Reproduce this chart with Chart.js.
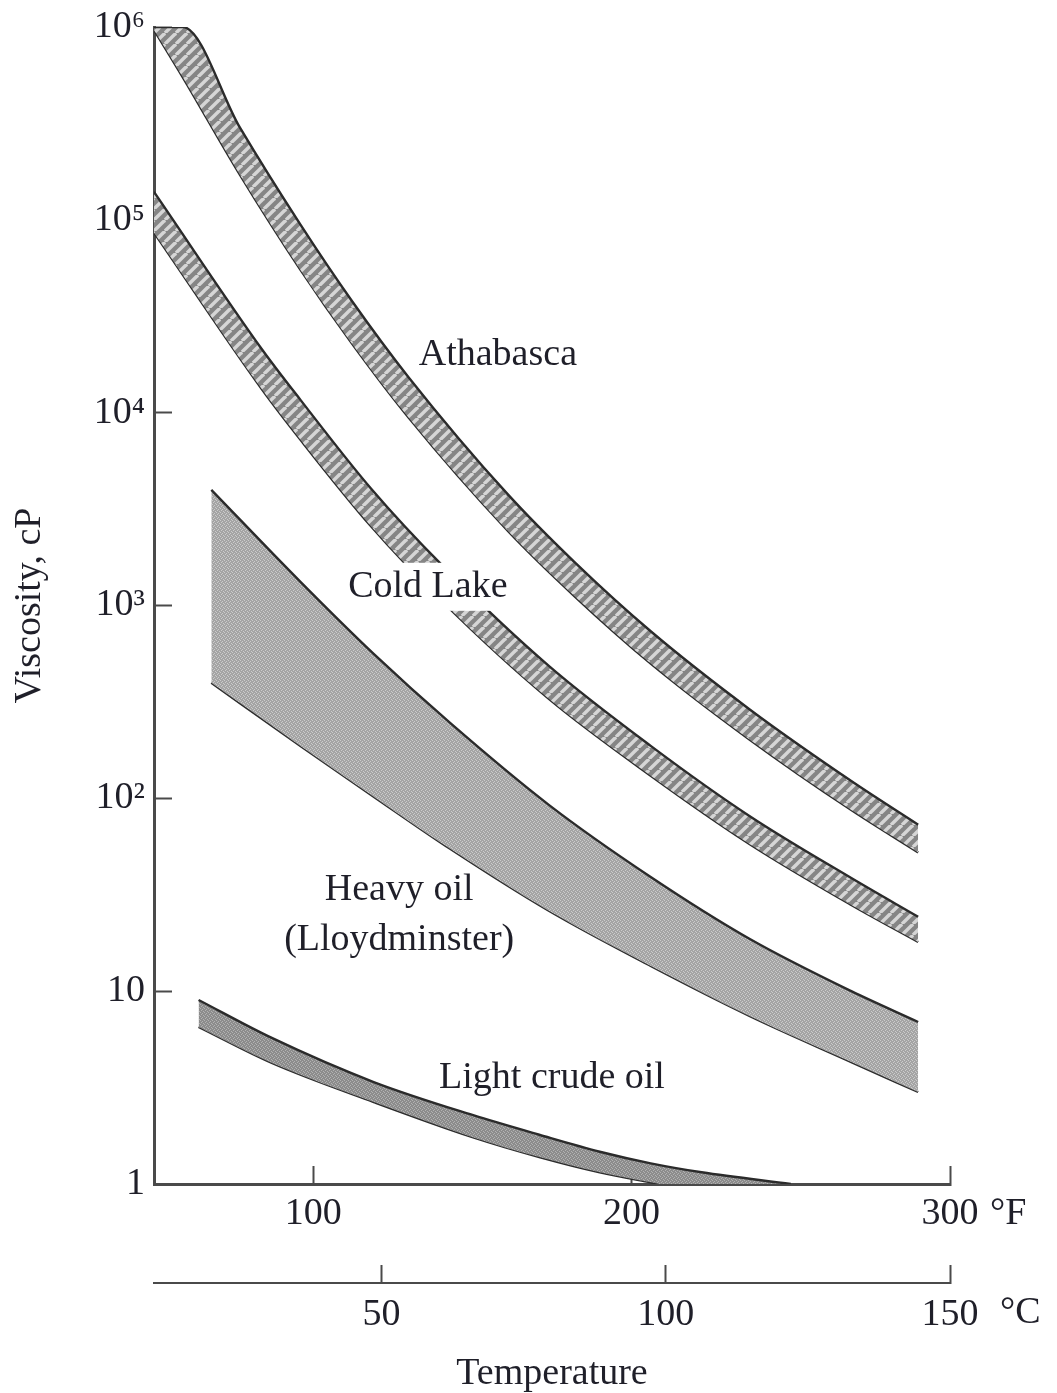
<!DOCTYPE html>
<html>
<head>
<meta charset="utf-8">
<script src="https://cdn.jsdelivr.net/npm/chart.js@4.4.1/dist/chart.umd.min.js"></script>
<style>
html, body { margin: 0; padding: 0; background: #fff; }
#wrap { width: 1057px; height: 1393px; }
</style>
</head>
<body>
<div id="wrap"><canvas id="visc"></canvas></div>
<script>
// temperatures in °F, viscosity in cP
const athabascaTemp = [50, 59, 77, 96, 112, 130, 161, 182, 206, 237, 269, 290]
const athabascaHigh = [1000000, 1000000, 300600, 94400, 38300, 15240, 3790, 1683, 735, 290, 123, 73]
const athabascaLow = [966000, 550000, 171000, 55000, 23000, 9400, 2450, 1120, 500, 202, 86.9, 52.4]

const coldLakeTemp = [50, 84, 96, 118, 141, 174, 206, 237, 269, 290]
const coldLakeHigh = [139700, 21200, 11650, 4070, 1585, 486, 187, 81, 38.6, 24.3]
const coldLakeLow = [85700, 13130, 7230, 2590, 1031, 328, 131, 58, 28, 18]

const heavyTemp = [68, 96, 119, 143, 174, 206, 237, 269, 290]
const heavyHigh = [3980, 1326, 561, 246, 92.5, 39.1, 18.7, 10.0, 6.92]
const heavyLow = [397, 187, 102, 54.7, 26.1, 13.5, 7.44, 4.29, 3.0]

const lightTemp = [64, 87, 119, 150, 171, 190, 206, 222, 250]
const lightHigh = [9.0, 5.72, 3.38, 2.28, 1.80, 1.47, 1.28, 1.15, 1.0]
const lightLow = [6.52, 4.24, 2.66, 1.75, 1.38, 1.15, 1.02, 0.91, 0.79]

const viscTicks = [1, 10, 100, 1000, 10000, 100000, 1000000]
const viscTickLabels = ['1', '10', '10²', '10³', '10⁴', '10⁵', '10⁶']
const tempFTicks = [100, 200, 300]
const tempCTicks = [50, 100, 150]

// where the band names sit (°F, cP)
const bandNames = ['Athabasca', 'Cold Lake', 'Heavy oil', '(Lloydminster)', 'Light crude oil']
const nameTemp = [158, 136, 127, 127, 175]
const nameVisc = [20000, 1250, 33.5, 18.4, 3.55]
const maskedNames = ['Cold Lake']

const FONT = '"Liberation Serif", "DejaVu Serif", serif'
const INK = '#1f1f29'
const AXIS = '#4a4a4a'
const EDGE = '#2b2b2b'

// rope-like stripes for the bitumen bands
function ropePattern() {
    const n = 11
    const c = document.createElement('canvas')
    c.width = n
    c.height = n
    const g = c.getContext('2d')
    g.fillStyle = '#858585'
    g.fillRect(0, 0, n, n)
    g.strokeStyle = '#d6d6d6'
    g.lineWidth = 3.4
    for (const off of [-n, 0, n]) {
        g.beginPath()
        g.moveTo(off, n)
        g.lineTo(off + n, 0)
        g.stroke()
    }
    return g.createPattern(c, 'repeat')
}

// fine speckle for the oils
function specklePattern(base, light) {
    const c = document.createElement('canvas')
    c.width = 4
    c.height = 4
    const g = c.getContext('2d')
    g.fillStyle = base
    g.fillRect(0, 0, 4, 4)
    g.fillStyle = light
    g.fillRect(0, 0, 1, 1)
    g.fillRect(2, 1, 1, 1)
    g.fillRect(1, 2, 1, 1)
    g.fillRect(3, 3, 1, 1)
    return g.createPattern(c, 'repeat')
}

function edge(label, temps, visc, fill, bg) {
    return {
        label: label,
        data: temps.map((t, i) => ({ x: t, y: visc[i] })),
        borderColor: EDGE,
        borderWidth: 2.4,
        pointRadius: 0,
        cubicInterpolationMode: 'monotone',
        fill: fill,
        backgroundColor: bg || 'transparent'
    }
}

const rope = ropePattern()

const bandLabels = {
    id: 'bandLabels',
    afterDatasetsDraw(chart) {
        const { ctx, scales } = chart
        const x = scales.x, y = scales.y, xc = scales.xc
        ctx.save()
        ctx.font = '38px ' + FONT
        ctx.textAlign = 'center'
        ctx.textBaseline = 'middle'
        bandNames.forEach((name, i) => {
            const px = x.getPixelForValue(nameTemp[i])
            const py = y.getPixelForValue(nameVisc[i])
            if (maskedNames.includes(name)) {
                const w = ctx.measureText(name).width
                ctx.fillStyle = '#fff'
                ctx.fillRect(px - w / 2 - 8, py - 24, w + 16, 48)
            }
            ctx.fillStyle = INK
            ctx.fillText(name, px, py)
        })
        // unit marks after the last tick of each temperature axis
        ctx.textAlign = 'left'
        ctx.fillText('°F', x.getPixelForValue(300) + 40, x.top + 30)
        ctx.fillText('°C', xc.getPixelForValue(150) + 50, xc.top + 30)
        ctx.restore()
    }
}

const ctx = document.getElementById('visc')
new Chart(ctx, {
    type: 'line',
    data: {
        datasets: [
            edge('Athabasca', athabascaTemp, athabascaHigh, '+1', rope),
            edge('Athabasca low', athabascaTemp, athabascaLow, false),
            edge('Cold Lake', coldLakeTemp, coldLakeHigh, '+1', rope),
            edge('Cold Lake low', coldLakeTemp, coldLakeLow, false),
            edge('Heavy oil', heavyTemp, heavyHigh, '+1', specklePattern('#a4a4a4', '#cbcbcb')),
            edge('Heavy oil low', heavyTemp, heavyLow, false),
            edge('Light crude oil', lightTemp, lightHigh, '+1', specklePattern('#8c8c8c', '#b2b2b2')),
            edge('Light crude oil low', lightTemp, lightLow, false)
        ]
    },
    options: {
        responsive: true,
        maintainAspectRatio: false,
        animation: false,
        layout: { padding: { top: 27, right: 107, left: 0, bottom: 0 } },
        plugins: {
            legend: { display: false },
            tooltip: { enabled: false }
        },
        scales: {
            x: {
                type: 'linear',
                position: 'bottom',
                weight: 0,
                min: 50,
                max: 300,
                afterBuildTicks: (s) => { s.ticks = tempFTicks.map(v => ({ value: v })) },
                grid: { drawOnChartArea: false, tickLength: -18, tickWidth: 2, tickColor: AXIS },
                border: { color: AXIS, width: 3 },
                ticks: { font: { family: FONT, size: 38 }, color: INK, padding: 25, maxRotation: 0, autoSkip: false },
                afterFit: (s) => { s.height = 99 }
            },
            xc: {
                type: 'linear',
                position: 'bottom',
                weight: 1,
                min: 10,
                max: 150,
                afterBuildTicks: (s) => { s.ticks = tempCTicks.map(v => ({ value: v })) },
                grid: { drawOnChartArea: false, tickLength: -18, tickWidth: 2, tickColor: AXIS },
                border: { color: AXIS, width: 2 },
                ticks: { font: { family: FONT, size: 38 }, color: INK, padding: 27, maxRotation: 0, autoSkip: false },
                title: { display: true, text: 'Temperature', font: { family: FONT, size: 38 }, color: INK, padding: { top: 0, bottom: -4 } },
                afterFit: (s) => { s.height = 110 }
            },
            y: {
                type: 'logarithmic',
                min: 1,
                max: 1000000,
                afterBuildTicks: (s) => { s.ticks = viscTicks.map(v => ({ value: v })) },
                grid: { drawOnChartArea: false, tickLength: -18, tickWidth: 2, tickColor: AXIS },
                border: { color: AXIS, width: 3 },
                ticks: {
                    font: { family: FONT, size: 38 },
                    color: INK,
                    padding: 27,
                    autoSkip: false,
                    callback: (v) => viscTickLabels[viscTicks.indexOf(v)] || ''
                },
                title: { display: true, text: 'Viscosity, cP', font: { family: FONT, size: 38 }, color: INK, padding: 7 },
                afterFit: (s) => {
                    s.width = 154
                    s.paddingTop = 0
                    s.paddingBottom = 0
                }
            }
        }
    },
    plugins: [bandLabels]
})
</script>
</body>
</html>
